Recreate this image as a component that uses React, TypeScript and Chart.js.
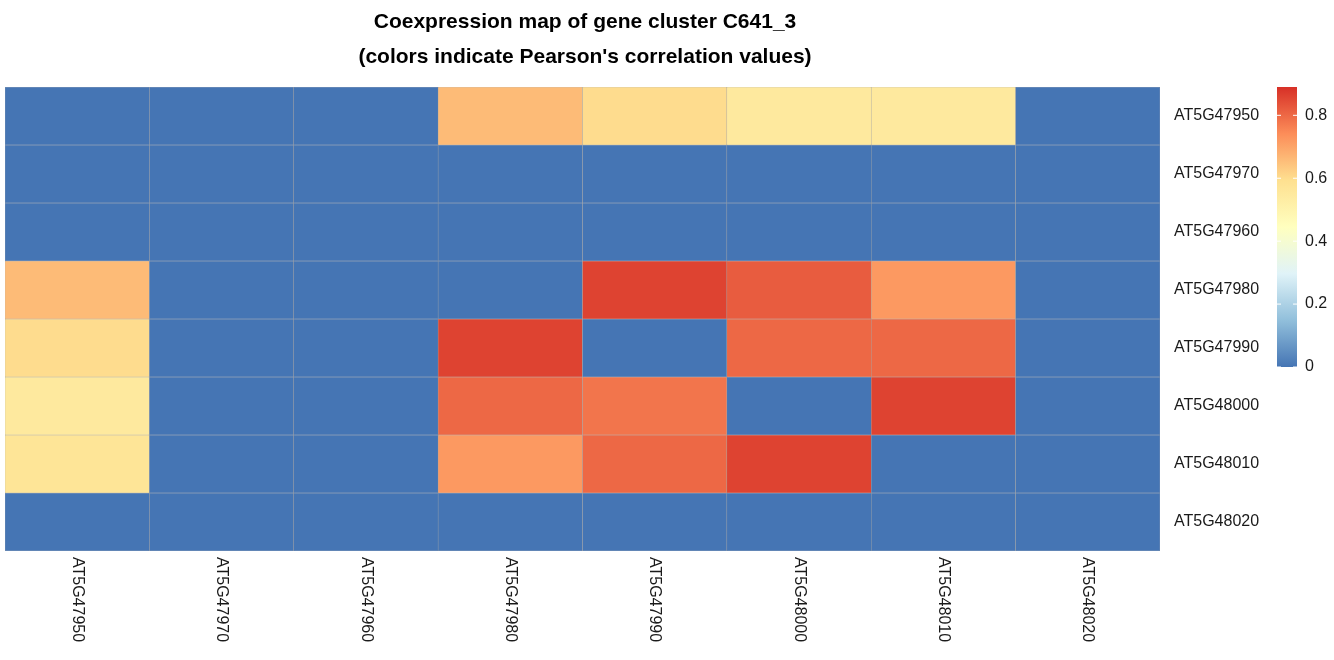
import { useEffect, useRef } from 'react'
import { Chart, registerables } from 'chart.js'

Chart.register(...registerables)

const genes = ['AT5G47950', 'AT5G47970', 'AT5G47960', 'AT5G47980', 'AT5G47990', 'AT5G48000', 'AT5G48010', 'AT5G48020']
// rows top to bottom, columns left to right
const row0 = [0, 0, 0, 0.66, 0.6, 0.55, 0.55, 0]
const row1 = [0, 0, 0, 0, 0, 0, 0, 0]
const row2 = [0, 0, 0, 0, 0, 0, 0, 0]
const row3 = [0.66, 0, 0, 0, 0.86, 0.82, 0.72, 0]
const row4 = [0.6, 0, 0, 0.86, 0, 0.8, 0.8, 0]
const row5 = [0.55, 0, 0, 0.8, 0.78, 0, 0.86, 0]
const row6 = [0.57, 0, 0, 0.72, 0.8, 0.86, 0, 0]
const row7 = [0, 0, 0, 0, 0, 0, 0, 0]
const rows = [row0, row1, row2, row3, row4, row5, row6, row7]
const legendTicks = [0, 0.2, 0.4, 0.6, 0.8]
const legendMax = 0.89

const stops = ['#4575b4', '#91bfdb', '#e0f3f8', '#ffffbf', '#fee090', '#fc8d59', '#d73027']

const hex = (h: string) => [1, 3, 5].map(i => parseInt(h.slice(i, i + 2), 16))
const colorFor = (v: number) => {
  const t = Math.min(Math.max(v / legendMax, 0), 1) * (stops.length - 1)
  const i = Math.min(Math.floor(t), stops.length - 2)
  const f = t - i
  const a = hex(stops[i]), b = hex(stops[i + 1])
  const c = a.map((x, k) => Math.round(x + (b[k] - x) * f))
  return `rgb(${c[0]},${c[1]},${c[2]})`
}

const FONT = '"Liberation Sans", Arial, sans-serif'

const extras = {
  id: 'extras',
  afterDraw(chart: any) {
    const { ctx } = chart
    const x = chart.scales.x
    ctx.save()
    // title
    ctx.fillStyle = '#000'
    ctx.font = `bold 21px ${FONT}`
    ctx.textAlign = 'center'
    ctx.textBaseline = 'middle'
    ctx.fillText('Coexpression map of gene cluster C641_3', 585, 22)
    ctx.fillText("(colors indicate Pearson's correlation values)", 585, 57)
    // column labels, reading top to bottom
    ctx.font = `16px ${FONT}`
    ctx.fillStyle = '#1a1a1a'
    genes.forEach((g, i) => {
      const px = x.getPixelForTick(i)
      ctx.save()
      ctx.translate(px, chart.chartArea.bottom + 6)
      ctx.rotate(Math.PI / 2)
      ctx.textAlign = 'left'
      ctx.fillText(g, 0, 0)
      ctx.restore()
    })
    // colour bar
    const top = 87, bottom = 367, left = 1277, w = 20
    const grad = ctx.createLinearGradient(0, bottom, 0, top)
    stops.forEach((s, i) => grad.addColorStop(i / (stops.length - 1), s))
    ctx.fillStyle = grad
    ctx.fillRect(left, top, w, bottom - top)
    ctx.font = `16px ${FONT}`
    ctx.textAlign = 'left'
    ctx.fillStyle = '#1a1a1a'
    ctx.strokeStyle = '#fff'
    legendTicks.forEach(v => {
      const py = bottom - (v / legendMax) * (bottom - top)
      ctx.beginPath()
      ctx.moveTo(left, py); ctx.lineTo(left + 4, py)
      ctx.moveTo(left + w - 4, py); ctx.lineTo(left + w, py)
      ctx.stroke()
      ctx.fillText(String(v), left + w + 8, py)
    })
    ctx.restore()
  }
}

export default function App() {
  const canvasRef = useRef<HTMLCanvasElement>(null)

  useEffect(() => {
    document.body.style.margin = '0'
    if (!canvasRef.current) return
    const chart = new Chart(canvasRef.current, {
      type: 'bar',
      data: {
        labels: genes,
        datasets: rows.map((r, ri) => ({
          data: r.map(() => [ri, ri + 1]) as any,
          backgroundColor: r.map(colorFor),
          borderColor: '#a6a6a6',
          borderWidth: 0.5,
          borderSkipped: false,
          barPercentage: 1,
          categoryPercentage: 1,
          grouped: false
        }))
      },
      options: {
        animation: false,
        responsive: true,
        maintainAspectRatio: false,
        layout: { padding: { top: 87, left: 5, right: 0, bottom: 0 } },
        plugins: { legend: { display: false }, tooltip: { enabled: false } },
        scales: {
          x: {
            grid: { display: false },
            border: { display: false },
            ticks: { display: false },
            afterFit: (s: any) => { s.height = 109 }
          },
          y: {
            position: 'right',
            reverse: true,
            min: 0,
            max: 8,
            grid: { display: false },
            border: { display: false },
            afterBuildTicks: (s: any) => { s.ticks = genes.map((_, i) => ({ value: i + 0.5 })) },
            afterFit: (s: any) => { s.width = 174 },
            ticks: {
              color: '#1a1a1a',
              font: { size: 16, family: FONT },
              padding: 6,
              callback: (v: any) => genes[Math.floor(Number(v))]
            }
          }
        }
      },
      plugins: [extras]
    })
    return () => chart.destroy()
  }, [])

  return (
    <div style={{ width: 1334, height: 660, background: '#fff' }}>
      <canvas ref={canvasRef} />
    </div>
  )
}
